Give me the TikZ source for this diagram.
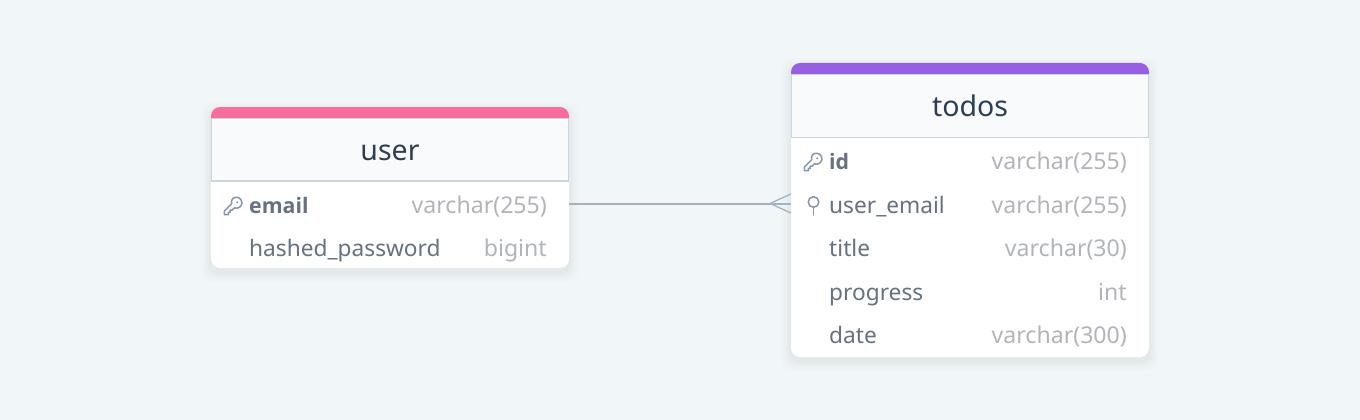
\documentclass[tikz,border=0pt]{standalone}
\usepackage{fontspec}
\setmainfont{Noto Sans}
\newfontfamily\keyfont{Open Sans}
\usetikzlibrary{arrows.meta}
\definecolor{pagebg}{HTML}{F1F6F9}
\definecolor{headbg}{HTML}{F8FAFC}
\definecolor{headline}{HTML}{CBD5E1}
\definecolor{titletext}{HTML}{2D3D54}
\definecolor{fieldtext}{HTML}{647282}
\definecolor{typetext}{HTML}{B1B5BA}
\definecolor{linkline}{HTML}{A3B3C6}
\definecolor{iconline}{HTML}{8796A8}
\definecolor{usercolor}{HTML}{F76D9B}
\definecolor{todoscolor}{HTML}{9660E0}
\tikzset{
	tablebox/.style={fill=white, rounded corners=9pt},
	tablehead/.style={draw=headline, line width=1.5pt, fill=headbg},
	tabletitle/.style={anchor=base, font=\fontsize{28.5}{29}\selectfont, text=titletext, inner sep=0pt},
	fieldname/.style={anchor=base west, font=\fontsize{22.7}{23}\selectfont, text=fieldtext, inner sep=0pt},
	keyname/.style={fieldname, font=\keyfont\fontsize{21.3}{22}\selectfont\bfseries},
	fieldtype/.style={anchor=base east, font=\fontsize{23.1}{24}\selectfont, text=typetext, inner sep=0pt},
	linkstyle/.style={draw=linkline, line width=2pt},
	iconstyle/.style={draw=iconline, line width=1.5pt, line cap=round, line join=round},
}
\newcommand{\softshadow}[4]{%
	\foreach \grow/\op in {10/0.006, 8/0.008, 6/0.01, 4/0.012, 2/0.016}
		\fill[black, opacity=\op, rounded corners=11pt] (#1-\grow, #2+5-\grow) rectangle (#3+\grow, #4+4+\grow);
}
\newcommand{\topbar}[4]{%
	\fill[#4] (#1, #3) -- (#1, #3-2) arc[start angle=180, end angle=270, radius=9] -- (#2-9, #3-11) arc[start angle=270, end angle=360, radius=9] -- (#2, #3) -- cycle;
}
\newcommand{\keyicon}[2]{%
	\begin{scope}[shift={(#1, #2)}, scale=0.92]
		\draw[iconstyle] (-9.5, 9.5) -- (-9.5, 5.5) -- (-1.5, -2.5) .. controls (-3, -8) and (2, -10) .. (4.5, -9.5)
			.. controls (9, -9) and (10, -4) .. (9.5, -2) .. controls (8.5, 2) and (4, 3) .. (1.5, 2)
			-- (-1, 4.5) -- (-3, 4.5) -- (-3, 7) -- (-5, 7) -- (-5, 9.5) -- cycle;
		\fill[iconline] (4.5, -4) circle (1.2pt);
	\end{scope}
}
\begin{document}
\begin{tikzpicture}[x=1pt, y=-1pt]
	\useasboundingbox (0, 0) rectangle (1360, 420);
	\fill[pagebg] (0, 0) rectangle (1360, 420);

	% user table
	\softshadow{211}{107}{569}{268}
	\fill[tablebox] (211, 107) rectangle (569, 268);
	\topbar{211}{569}{118}{usercolor}
	\draw[tablehead] (211.7, 118.7) rectangle (568.3, 181);
	\node[tabletitle] (usertitle) at (390, 160) {user};
	\keyicon{233}{206}
	\node[keyname] (useremail) at (249, 213) {email};
	\node[fieldtype] (useremailtype) at (547, 213) {varchar(255)};
	\node[fieldname] (userpassword) at (249, 256) {hashed\_password};
	\node[fieldtype] (userpasswordtype) at (547, 256) {bigint};

	% todos table
	\softshadow{791}{63}{1149}{357}
	\fill[tablebox] (791, 63) rectangle (1149, 357);
	\topbar{791}{1149}{74}{todoscolor}
	\draw[tablehead] (791.7, 74.7) rectangle (1148.3, 137.5);
	\node[tabletitle] (todostitle) at (970, 116) {todos};
	\keyicon{813}{162}
	\node[keyname] (todosid) at (829, 169) {id};
	\node[fieldtype] (todosidtype) at (1127, 169) {varchar(255)};
	\draw[iconstyle] (813.5, 202) circle (5.3pt);
	\draw[iconstyle] (813.5, 207.3) -- (813.5, 215);
	\node[fieldname] (todosuser) at (829, 213) {user\_email};
	\node[fieldtype] (todosusertype) at (1127, 213) {varchar(255)};
	\node[fieldname] (todostitlerow) at (829, 256) {title};
	\node[fieldtype] (todostitletype) at (1127, 256) {varchar(30)};
	\node[fieldname] (todosprogress) at (829, 300) {progress};
	\node[fieldtype] (todosprogresstype) at (1127, 300) {int};
	\node[fieldname] (todosdate) at (829, 343) {date};
	\node[fieldtype] (todosdatetype) at (1127, 343) {varchar(300)};

	% link
	\coordinate (userlink) at (569, 203.5);
	\coordinate (todoslink) at (791, 203.5);
	\coordinate (crowfoot) at (770, 203.5);
	\coordinate (crowup) at (791, 194);
	\coordinate (crowdown) at (791, 213);
	\draw[linkstyle] (userlink) -- (todoslink);
	\draw[linkstyle, line width=1.3pt] (crowup) -- (crowfoot) -- (crowdown);
\end{tikzpicture}
\end{document}
